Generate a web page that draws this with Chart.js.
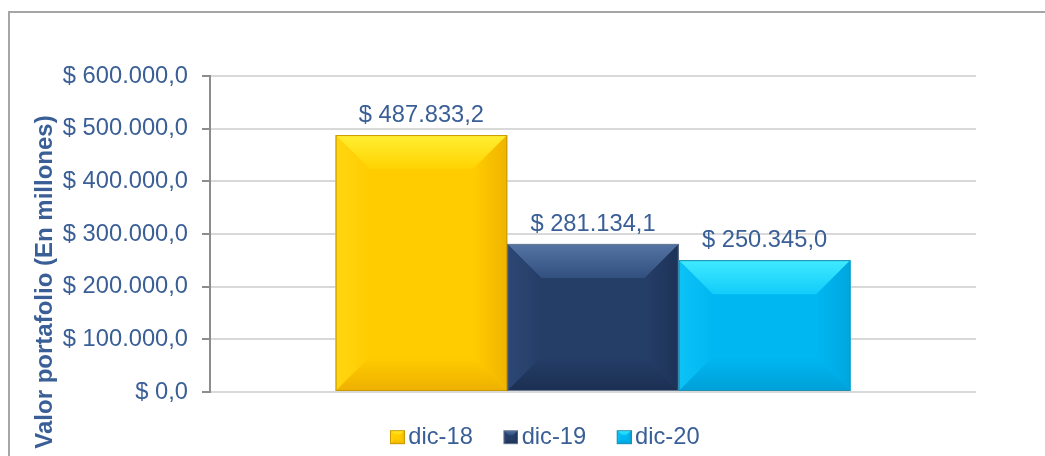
<!DOCTYPE html>
<html><head><meta charset="utf-8">
<script src="https://cdn.jsdelivr.net/npm/chart.js@4"></script>
<style>
html,body{margin:0;padding:0;background:#fff;}
#wrap{position:relative;width:1045px;height:456px;overflow:hidden;background:#fff;}
#frame{position:absolute;left:8px;top:11px;width:1100px;height:500px;border-left:2px solid #A6A6A6;border-top:2px solid #A6A6A6;}
canvas{position:absolute;left:0;top:0;}
</style></head><body>
<div id="wrap"><div id="frame"></div><canvas id="c" width="1045" height="456"></canvas></div>
<script>
// ---- data ----
const categories = [''];
const seriesNames = ['dic-18', 'dic-19', 'dic-20'];
const seriesValues = [487833.2, 281134.1, 250345.0];
const yMin = 0;
const yMax = 600000;
const yStep = 100000;
const yTitle = 'Valor portafolio (En millones)';

// ---- styles ----
const TXT = '#3A5F96';
const FONT = "'Liberation Sans', Arial, sans-serif";
const FS = 23.7;
const palettes = [
  {face:'#FFCC00', top1:'#FFEE33', top2:'#FFD300', left:'#FFD612', right:'#F0B400', bottom:'#EEB000', edge:'#C99A00'},
  {face:'#253E68', top1:'#5573A3', top2:'#31507F', left:'#2D4775', right:'#1D3257', bottom:'#1B2F51', edge:'#6A7A92'},
  {face:'#00B7F1', top1:'#40EAFF', top2:'#12CCFA', left:'#0CC2F6', right:'#00A6DF', bottom:'#00A0D8', edge:'#2090B0'}
];

function fmt(v) {
  const neg = v < 0; v = Math.abs(v);
  const s = v.toFixed(1);
  const [ip, dp] = s.split('.');
  const withDots = ip.replace(/\B(?=(\d{3})+(?!\d))/g, '.');
  return '$ ' + (neg ? '-' : '') + withDots + ',' + dp;
}

function drawBevel(ctx, x0, y0, x1, y1, b, p) {
  b = Math.max(0, Math.min(b, (x1 - x0) / 2, (y1 - y0) / 2));
  ctx.save();
  ctx.fillStyle = p.face;
  ctx.fillRect(x0, y0, x1 - x0, y1 - y0);
  let g;
  g = ctx.createLinearGradient(0, y0, 0, y0 + b);
  g.addColorStop(0, p.top1); g.addColorStop(1, p.top2);
  ctx.fillStyle = g;
  ctx.beginPath(); ctx.moveTo(x0, y0); ctx.lineTo(x1, y0); ctx.lineTo(x1 - b, y0 + b); ctx.lineTo(x0 + b, y0 + b); ctx.closePath(); ctx.fill();
  g = ctx.createLinearGradient(x0, 0, x0 + b, 0);
  g.addColorStop(0, p.left); g.addColorStop(1, p.face);
  ctx.fillStyle = g;
  ctx.beginPath(); ctx.moveTo(x0, y0); ctx.lineTo(x0 + b, y0 + b); ctx.lineTo(x0 + b, y1 - b); ctx.lineTo(x0, y1); ctx.closePath(); ctx.fill();
  g = ctx.createLinearGradient(x1 - b, 0, x1, 0);
  g.addColorStop(0, p.face); g.addColorStop(1, p.right);
  ctx.fillStyle = g;
  ctx.beginPath(); ctx.moveTo(x1, y0); ctx.lineTo(x1, y1); ctx.lineTo(x1 - b, y1 - b); ctx.lineTo(x1 - b, y0 + b); ctx.closePath(); ctx.fill();
  g = ctx.createLinearGradient(0, y1 - b, 0, y1);
  g.addColorStop(0, p.face); g.addColorStop(1, p.bottom);
  ctx.fillStyle = g;
  ctx.beginPath(); ctx.moveTo(x0, y1); ctx.lineTo(x0 + b, y1 - b); ctx.lineTo(x1 - b, y1 - b); ctx.lineTo(x1, y1); ctx.closePath(); ctx.fill();
  ctx.strokeStyle = p.edge; ctx.lineWidth = 1;
  ctx.strokeRect(x0 + 0.5, y0 + 0.5, x1 - x0 - 1, y1 - y0 - 1);
  ctx.restore();
}

const PSW = 29;
function makeIcon(p) {
  const c = document.createElement('canvas');
  c.width = PSW + 17; c.height = 16;
  const ctx = c.getContext('2d');
  drawBevel(ctx, c.width - 15, 1, c.width, 15, 5, p);
  return c;
}
const icons = palettes.map(makeIcon);

const bevelPlugin = {
  id: 'bevel',
  afterDatasetsDraw(chart) {
    const ctx = chart.ctx;
    chart.data.datasets.forEach((ds, di) => {
      const meta = chart.getDatasetMeta(di);
      if (meta.hidden) return;
      meta.data.forEach((el, i) => {
        const {x, y, base, width} = el.getProps(['x', 'y', 'base', 'width'], true);
        const x0 = x - width / 2, x1 = x + width / 2;
        const top = Math.min(y, base), bot = Math.max(y, base);
        drawBevel(ctx, x0, top, x1, bot, 34, palettes[di]);
        ctx.save();
        ctx.font = FS + 'px ' + FONT;
        ctx.fillStyle = TXT;
        ctx.textAlign = 'center';
        ctx.textBaseline = 'alphabetic';
        ctx.fillText(fmt(ds.data[i]), x, top - 13);
        ctx.restore();
      });
    });
  }
};

const titlePlugin = {
  id: 'ytitle',
  afterDraw(chart) {
    const ctx = chart.ctx;
    ctx.save();
    ctx.translate(45, 282);
    ctx.rotate(-Math.PI / 2);
    ctx.font = 'bold 24px ' + FONT;
    ctx.fillStyle = TXT;
    ctx.textAlign = 'center';
    ctx.textBaseline = 'middle';
    ctx.fillText(yTitle, 0, 0);
    ctx.restore();
  }
};

const PAD_LEFT = 22;
const PAD_BOTTOM = -3;
const PLOT_BOTTOM = 392;

new Chart(document.getElementById('c'), {
  type: 'bar',
  data: {
    labels: categories,
    datasets: seriesNames.map((n, i) => ({
      label: n,
      data: [seriesValues[i]],
      backgroundColor: palettes[i].face,
      borderWidth: 0,
      categoryPercentage: 0.672,
      barPercentage: 1.0
    }))
  },
  options: {
    responsive: false,
    animation: false,
    devicePixelRatio: 1,
    layout: { padding: { left: PAD_LEFT, right: 0, top: 76, bottom: PAD_BOTTOM } },
    plugins: {
      tooltip: { enabled: false },
      legend: {
        position: 'bottom',
        labels: {
          usePointStyle: true,
          pointStyleWidth: PSW,
          padding: 8,
          color: TXT,
          font: { size: FS, family: FONT },
          generateLabels(chart) {
            const items = Chart.defaults.plugins.legend.labels.generateLabels(chart);
            items.forEach((it, i) => { it.pointStyle = icons[i]; it.fontColor = TXT; });
            return items;
          }
        }
      }
    },
    scales: {
      x: {
        display: true,
        grid: { display: false },
        border: { display: false },
        ticks: { display: false },
        afterFit(s) {
          const lh = s.chart.legend ? s.chart.legend.height : 0;
          s.height = Math.max(0, 456 - PLOT_BOTTOM - PAD_BOTTOM - lh);
        }
      },
      y: {
        min: yMin, max: yMax,
        ticks: {
          stepSize: yStep,
          color: TXT,
          font: { size: FS, family: FONT },
          padding: 14,
          callback: v => fmt(v)
        },
        grid: { color: '#D9D9D9', lineWidth: 2, tickColor: '#8C8C8C', tickLength: 8, drawTicks: true },
        border: { color: '#8C8C8C', width: 2 },
        afterFit(s) { s.width = 210 - PAD_LEFT; }
      },
      y2: {
        position: 'right',
        min: 0, max: 1,
        grid: { display: false, drawTicks: false },
        border: { display: false },
        ticks: { display: false },
        afterFit(s) { s.width = 1045 - 976; }
      }
    }
  },
  plugins: [bevelPlugin, titlePlugin]
});
</script>
</body></html>
